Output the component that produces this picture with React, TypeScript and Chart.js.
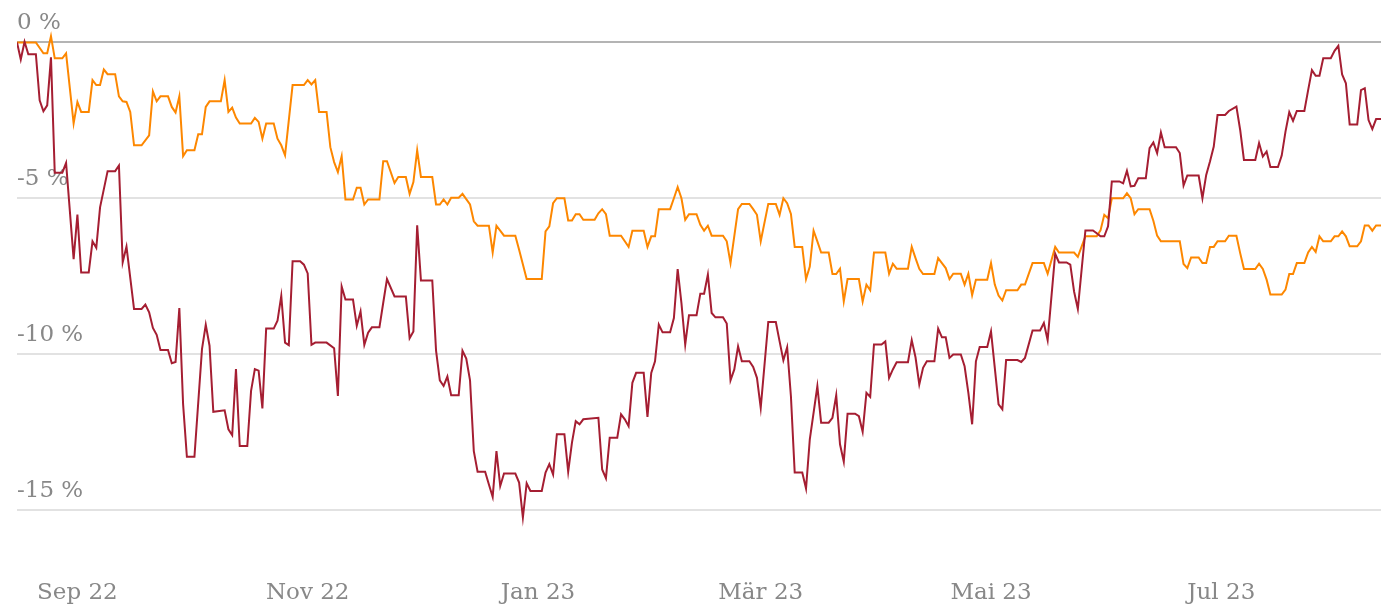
import React, { useEffect, useRef } from "react";
import { Chart, registerables } from "chart.js";

Chart.register(...registerables);

// x = days since 1 Sep 2022, y = change in %
const RED_SERIES: [number, number][] = [
  [-16, 0], [-15, -0.55], [-14, 0.02], [-13, -0.38], [-11, -0.38], [-10, -1.86], [-9, -2.21], [-8, -2.02],
  [-7, -0.48], [-6, -4.18], [-4, -4.18], [-3, -3.87], [-1, -6.95], [0, -5.52], [1, -7.38], [3, -7.38],
  [4, -6.38], [5, -6.59], [6, -5.29], [8, -4.13], [10, -4.13], [11, -3.95], [12, -7.05], [13, -6.55],
  [15, -8.55], [17, -8.55], [18, -8.41], [19, -8.66], [20, -9.16], [21, -9.38], [22, -9.87], [24, -9.87],
  [25, -10.29], [26, -10.25], [27, -8.52], [28, -11.61], [29, -13.29], [31, -13.29], [33, -9.84], [34, -9.06],
  [35, -9.73], [36, -11.85], [39, -11.8], [40, -12.41], [41, -12.6], [42, -10.48], [43, -12.95], [45, -12.95],
  [46, -11.18], [47, -10.48], [48, -10.53], [49, -11.74], [50, -9.18], [52, -9.18], [53, -8.93], [54, -8.13],
  [55, -9.63], [56, -9.71], [57, -7.02], [59, -7.02], [60, -7.13], [61, -7.41], [62, -9.7], [63, -9.63],
  [66, -9.63], [68, -9.81], [69, -11.34], [70, -7.83], [71, -8.25], [73, -8.25], [74, -9.09], [75, -8.63],
  [76, -9.7], [77, -9.31], [78, -9.14], [80, -9.14], [81, -8.36], [82, -7.59], [84, -8.15], [87, -8.15],
  [88, -9.49], [89, -9.27], [90, -5.87], [91, -7.64], [94, -7.64], [95, -9.89], [96, -10.84], [97, -11.02],
  [98, -10.72], [99, -11.32], [101, -11.32], [102, -9.89], [103, -10.14], [104, -10.84], [105, -13.11],
  [106, -13.77], [108, -13.77], [109, -14.18], [110, -14.58], [111, -13.11], [112, -14.23], [113, -13.83],
  [116, -13.83], [117, -14.12], [118, -15.24], [119, -14.14], [120, -14.39], [123, -14.39], [124, -13.8],
  [125, -13.53], [126, -13.86], [127, -12.57], [129, -12.57], [130, -13.77], [131, -12.84], [132, -12.15],
  [133, -12.25], [134, -12.09], [138, -12.04], [139, -13.7], [140, -13.98], [141, -12.68], [143, -12.68],
  [144, -11.93], [145, -12.09], [146, -12.31], [147, -10.92], [148, -10.6], [150, -10.6], [151, -12.01],
  [152, -10.6], [153, -10.23], [154, -9.05], [155, -9.3], [157, -9.3], [158, -8.84], [159, -7.27],
  [160, -8.36], [161, -9.69], [162, -8.75], [164, -8.75], [165, -8.06], [166, -8.06], [167, -7.45],
  [168, -8.68], [169, -8.82], [171, -8.82], [172, -9.02], [173, -10.84], [174, -10.49], [175, -9.75],
  [176, -10.23], [178, -10.23], [179, -10.41], [180, -10.76], [181, -11.72], [183, -8.97], [185, -8.97],
  [186, -9.59], [187, -10.2], [188, -9.78], [189, -11.35], [190, -13.8], [192, -13.8], [193, -14.31],
  [194, -12.73], [196, -11.03], [197, -12.2], [199, -12.2], [200, -12.04], [201, -11.32], [202, -12.89],
  [203, -13.45], [204, -11.91], [206, -11.91], [207, -11.99], [208, -12.49], [209, -11.24], [210, -11.37],
  [211, -9.69], [213, -9.69], [214, -9.59], [215, -10.76], [216, -10.49], [217, -10.26], [220, -10.26],
  [221, -9.55], [222, -10.1], [223, -10.97], [224, -10.44], [225, -10.23], [227, -10.23], [228, -9.18],
  [229, -9.46], [230, -9.46], [231, -10.12], [232, -10.01], [234, -10.01], [235, -10.39], [236, -11.24],
  [237, -12.25], [238, -10.23], [239, -9.77], [241, -9.77], [242, -9.27], [243, -10.44], [244, -11.61],
  [245, -11.77], [246, -10.19], [249, -10.19], [250, -10.25], [251, -10.12], [253, -9.24], [255, -9.24],
  [256, -9.0], [257, -9.55], [259, -6.78], [260, -7.06], [262, -7.06], [263, -7.13], [264, -7.99],
  [265, -8.55], [267, -6.03], [269, -6.03], [270, -6.12], [271, -6.22], [272, -6.22], [273, -5.9],
  [274, -4.46], [276, -4.46], [277, -4.52], [278, -4.12], [279, -4.62], [280, -4.6], [281, -4.36],
  [283, -4.36], [284, -3.39], [285, -3.21], [286, -3.55], [287, -2.89], [288, -3.36], [291, -3.36],
  [292, -3.55], [293, -4.59], [294, -4.27], [297, -4.27], [298, -5.0], [299, -4.25], [300, -3.82],
  [301, -3.34], [302, -2.33], [304, -2.33], [305, -2.2], [307, -2.06], [308, -2.81], [309, -3.77],
  [312, -3.77], [313, -3.23], [314, -3.66], [315, -3.5], [316, -4.0], [318, -4.0], [319, -3.63],
  [320, -2.86], [321, -2.24], [322, -2.52], [323, -2.2], [325, -2.2], [326, -1.53], [327, -0.89],
  [328, -1.07], [329, -1.07], [330, -0.51], [332, -0.51], [333, -0.27], [334, -0.11], [335, -1.03],
  [336, -1.31], [337, -2.63], [339, -2.63], [340, -1.53], [341, -1.47], [342, -2.49], [343, -2.78],
  [344, -2.46], [345.3, -2.46],
];

const ORANGE_SERIES: [number, number][] = [
  [-16, 0], [-11, 0], [-9, -0.35], [-8, -0.35], [-7, 0.2], [-6, -0.51], [-4, -0.51], [-3, -0.35],
  [-1, -2.6], [0, -1.91], [1, -2.23], [3, -2.23], [4, -1.21], [5, -1.37], [6, -1.37], [7, -0.87],
  [8, -1.02], [10, -1.02], [11, -1.73], [12, -1.89], [13, -1.91], [14, -2.23], [15, -3.3], [17, -3.3],
  [19, -2.98], [20, -1.57], [21, -1.89], [22, -1.73], [24, -1.73], [25, -2.07], [26, -2.25], [27, -1.73],
  [28, -3.65], [29, -3.46], [31, -3.46], [32, -2.95], [33, -2.95], [34, -2.07], [35, -1.89], [38, -1.89],
  [39, -1.21], [40, -2.23], [41, -2.09], [42, -2.41], [43, -2.6], [46, -2.6], [47, -2.42], [48, -2.55],
  [49, -3.09], [50, -2.6], [52, -2.6], [53, -3.09], [54, -3.3], [55, -3.62], [57, -1.37], [60, -1.37],
  [61, -1.21], [62, -1.35], [63, -1.21], [64, -2.23], [66, -2.23], [67, -3.36], [68, -3.84], [69, -4.16],
  [70, -3.65], [71, -5.04], [73, -5.04], [74, -4.66], [75, -4.66], [76, -5.2], [77, -5.04], [80, -5.04],
  [81, -3.81], [82, -3.81], [84, -4.51], [85, -4.32], [87, -4.32], [88, -4.86], [89, -4.48], [90, -3.46],
  [91, -4.32], [94, -4.32], [95, -5.2], [96, -5.2], [97, -5.04], [98, -5.2], [99, -4.98], [101, -4.98],
  [102, -4.86], [104, -5.2], [105, -5.74], [106, -5.88], [109, -5.88], [110, -6.74], [111, -5.88],
  [113, -6.2], [116, -6.2], [117, -6.65], [119, -7.59], [123, -7.59], [124, -6.06], [125, -5.9],
  [126, -5.16], [127, -5.0], [129, -5.0], [130, -5.71], [131, -5.71], [132, -5.51], [133, -5.51],
  [134, -5.69], [137, -5.69], [138, -5.48], [139, -5.35], [140, -5.51], [141, -6.2], [144, -6.2],
  [145, -6.38], [146, -6.56], [147, -6.04], [150, -6.04], [151, -6.56], [152, -6.22], [153, -6.22],
  [154, -5.35], [157, -5.35], [158, -5.0], [159, -4.64], [160, -5.0], [161, -5.69], [162, -5.51],
  [164, -5.51], [165, -5.85], [166, -6.04], [167, -5.88], [168, -6.2], [171, -6.2], [172, -6.38],
  [173, -7.08], [175, -5.35], [176, -5.18], [178, -5.18], [179, -5.35], [180, -5.53], [181, -6.38],
  [183, -5.18], [185, -5.18], [186, -5.53], [187, -5.0], [188, -5.16], [189, -5.5], [190, -6.56],
  [192, -6.56], [193, -7.59], [194, -7.19], [195, -6.04], [196, -6.38], [197, -6.74], [199, -6.74],
  [200, -7.43], [201, -7.43], [202, -7.26], [203, -8.31], [204, -7.59], [207, -7.59], [208, -8.31],
  [209, -7.77], [210, -7.95], [211, -6.74], [214, -6.74], [215, -7.42], [216, -7.1], [217, -7.26],
  [220, -7.26], [221, -6.56], [222, -6.92], [223, -7.26], [224, -7.43], [227, -7.43], [228, -6.92],
  [229, -7.08], [230, -7.24], [231, -7.59], [232, -7.42], [234, -7.42], [235, -7.77], [236, -7.42],
  [237, -8.11], [238, -7.61], [241, -7.61], [242, -7.08], [243, -7.77], [244, -8.12], [245, -8.28],
  [246, -7.95], [249, -7.95], [250, -7.77], [251, -7.77], [253, -7.08], [256, -7.08], [257, -7.42],
  [259, -6.56], [260, -6.74], [264, -6.74], [265, -6.88], [267, -6.22], [270, -6.22], [271, -6.03],
  [272, -5.53], [273, -5.64], [274, -5.0], [277, -5.0], [278, -4.84], [279, -5.0], [280, -5.51],
  [281, -5.35], [284, -5.35], [285, -5.72], [286, -6.2], [287, -6.38], [292, -6.38], [293, -7.11],
  [294, -7.24], [295, -6.9], [297, -6.9], [298, -7.08], [299, -7.08], [300, -6.56], [301, -6.56],
  [302, -6.38], [304, -6.38], [305, -6.2], [307, -6.2], [308, -6.76], [309, -7.27], [312, -7.27],
  [313, -7.1], [314, -7.27], [315, -7.61], [316, -8.09], [319, -8.09], [320, -7.93], [321, -7.43],
  [322, -7.43], [323, -7.08], [325, -7.08], [326, -6.74], [327, -6.56], [328, -6.72], [329, -6.22],
  [330, -6.38], [332, -6.38], [333, -6.22], [334, -6.22], [335, -6.06], [336, -6.22], [337, -6.54],
  [339, -6.54], [340, -6.38], [341, -5.87], [342, -5.87], [343, -6.04], [344, -5.87], [345.3, -5.87],
];

const X_TICK_DAYS = [0, 61, 122, 181, 242, 303];
const X_TICK_LABELS = ["Sep 22", "Nov 22", "Jan 23", "Mär 23", "Mai 23", "Jul 23"];
const Y_TICK_VALUES = [-15, -10, -5, 0];
const Y_TICK_LABELS = ["-15 %", "-10 %", "-5 %", "0 %"];

const X_MIN = -16;
const X_MAX = 345.3;
const Y_MIN = -16.52;
const Y_MAX = 1.36;

const RED = "#a51e32";
const ORANGE = "#fd8700";
const LABEL_GREY = "#888888";
const FONT = "'DejaVu Serif', serif";

const yLabelPlugin = {
  id: "yLabelsAbove",
  beforeDatasetsDraw(chart: any) {
    const { ctx, chartArea, scales } = chart;
    const y = scales.y;
    ctx.save();
    ctx.font = `23px ${FONT}`;
    ctx.fillStyle = LABEL_GREY;
    ctx.textAlign = "left";
    ctx.textBaseline = "alphabetic";
    Y_TICK_VALUES.forEach((v, i) => {
      ctx.fillText(Y_TICK_LABELS[i], chartArea.left, y.getPixelForValue(v) - 13);
    });
    ctx.restore();
  },
};

export default function App() {
  const canvasRef = useRef<HTMLCanvasElement | null>(null);

  useEffect(() => {
    const canvas = canvasRef.current;
    if (!canvas) return;
    const chart = new Chart(canvas, {
      type: "line",
      data: {
        datasets: [
          {
            label: "Rot",
            data: RED_SERIES.map(([x, y]) => ({ x, y })),
            borderColor: RED,
            borderWidth: 2,
            pointRadius: 0,
            tension: 0,
            fill: false,
          },
          {
            label: "Orange",
            data: ORANGE_SERIES.map(([x, y]) => ({ x, y })),
            borderColor: ORANGE,
            borderWidth: 2,
            pointRadius: 0,
            tension: 0,
            fill: false,
          },
        ],
      },
      options: {
        animation: false,
        responsive: false,
        maintainAspectRatio: false,
        layout: { padding: { left: 17, right: 0, top: 0, bottom: -22 } },
        plugins: { legend: { display: false }, tooltip: { enabled: false } },
        scales: {
          x: {
            type: "linear",
            min: X_MIN,
            max: X_MAX,
            afterBuildTicks: (scale: any) => {
              scale.ticks = X_TICK_DAYS.map((v) => ({ value: v }));
            },
            grid: { display: false, drawTicks: false },
            border: { display: false },
            ticks: {
              autoSkip: false,
              maxRotation: 0,
              padding: 22,
              color: LABEL_GREY,
              font: { family: FONT, size: 23 },
              callback: (value: any) => {
                const i = X_TICK_DAYS.indexOf(Number(value));
                return i >= 0 ? X_TICK_LABELS[i] : "";
              },
            },
          },
          y: {
            type: "linear",
            min: Y_MIN,
            max: Y_MAX,
            afterBuildTicks: (scale: any) => {
              scale.ticks = Y_TICK_VALUES.map((v) => ({ value: v }));
            },
            grid: {
              drawTicks: false,
              color: (c: any) => (c.tick && c.tick.value === 0 ? "#b4b4b4" : "#e2e2e2"),
              lineWidth: 2,
            },
            border: { display: false },
            ticks: { display: false },
          },
        },
      },
      plugins: [yLabelPlugin],
    } as any);
    return () => chart.destroy();
  }, []);

  return (
    <div style={{ position: "absolute", left: 0, top: 0, width: 1381, height: 607, background: "#fff" }}>
      <canvas ref={canvasRef} width={1381} height={607} style={{ display: "block" }} />
    </div>
  );
}
